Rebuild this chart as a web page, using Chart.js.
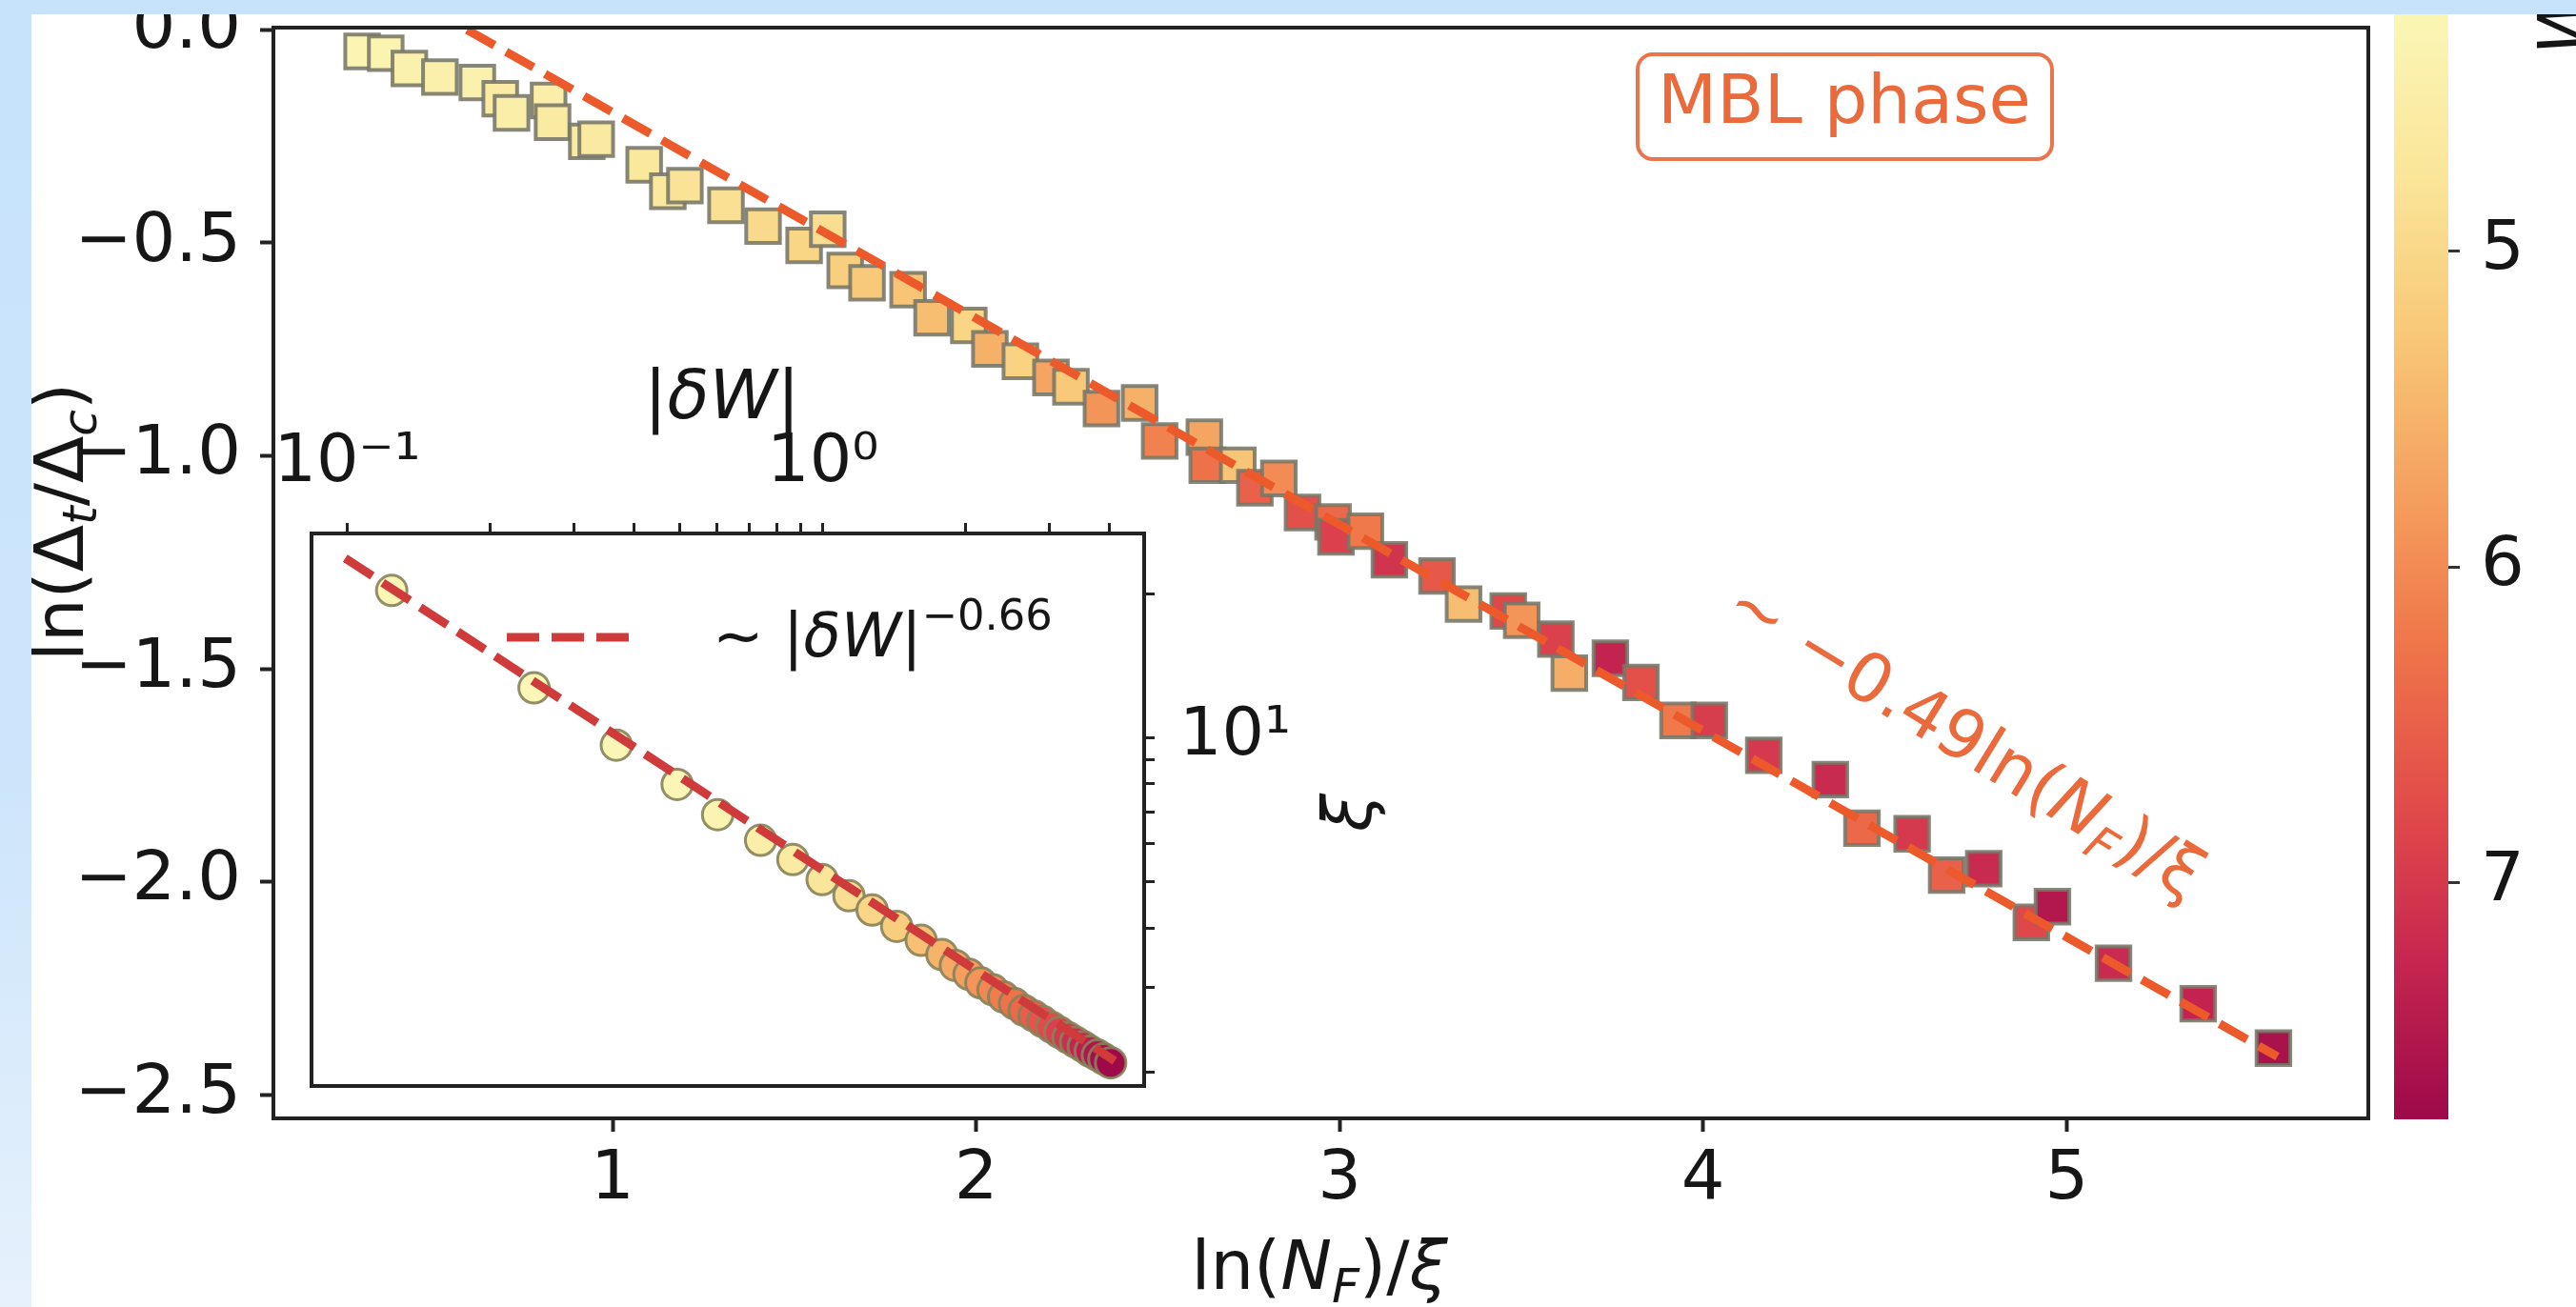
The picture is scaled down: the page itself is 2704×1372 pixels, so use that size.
<!DOCTYPE html>
<html>
<head>
<meta charset="utf-8">
<script src="https://cdn.jsdelivr.net/npm/chart.js@4.4.0/dist/chart.umd.min.js"></script>
<style>
  html, body { margin: 0; padding: 0; background: #fff; }
  #wrap { position: relative; width: 2704px; height: 1372px; overflow: hidden; background: #fff; }
  canvas { position: absolute; }
  #bandTop { position: absolute; left: 0; top: 0; width: 2704px; height: 15px; background: #c6e3fb; }
  #bandLeft { position: absolute; left: 0; top: 0; width: 33px; height: 1372px; background: linear-gradient(#c6e3fb, #cde5fb 60%, #e6f1fc); }
</style>
</head>
<body>
<div id="wrap">
  <canvas id="main" width="2704" height="1372" style="left:0;top:0"></canvas>
  <canvas id="inset" width="2704" height="1372" style="left:0;top:0"></canvas>
  <canvas id="cbar" width="224" height="1372" style="left:2480px;top:0"></canvas>
  <div id="bandTop"></div>
  <div id="bandLeft"></div>
</div>
<script>
// main panel: ln(Δt/Δc) against ln(N_F)/ξ, colour = W
const mainX = [0.311, 0.376, 0.441, 0.525, 0.628, 0.691, 0.722, 0.824, 0.835, 0.929, 0.955, 1.087, 1.152, 1.199, 1.312, 1.414, 1.527, 1.592, 1.640,
  1.700, 1.813, 1.879, 1.980, 2.038, 2.122, 2.206, 2.261, 2.345, 2.450, 2.505, 2.628, 2.636, 2.720, 2.767, 2.833, 2.898, 2.982,
  2.990, 3.071, 3.137, 3.268, 3.341, 3.464, 3.501, 3.595, 3.632, 3.745, 3.829, 3.931, 4.017, 4.167, 4.350,
  4.437, 4.575, 4.670, 4.772, 4.903, 4.961, 5.129, 5.362, 5.569];
const mainY = [-0.051, -0.055, -0.091, -0.111, -0.124, -0.162, -0.195, -0.166, -0.217, -0.262, -0.257, -0.317, -0.379, -0.366, -0.412, -0.461, -0.506, -0.468, -0.565,
  -0.594, -0.610, -0.676, -0.694, -0.749, -0.778, -0.816, -0.838, -0.889, -0.876, -0.965, -0.956, -1.022, -1.022, -1.075, -1.053, -1.133, -1.155,
  -1.190, -1.177, -1.244, -1.282, -1.348, -1.364, -1.386, -1.430, -1.510, -1.475, -1.532, -1.621, -1.621, -1.703, -1.760,
  -1.874, -1.887, -1.984, -1.969, -2.095, -2.058, -2.191, -2.286, -2.390];
const mainW = [4.30, 4.35, 4.40, 4.45, 4.40, 4.55, 4.50, 4.50, 4.60, 4.60, 4.65, 4.70, 4.70, 4.80, 4.85, 4.95, 5.05, 4.90, 5.15,
  5.25, 5.30, 5.40, 5.05, 5.55, 5.10, 5.70, 5.25, 5.90, 5.55, 6.10, 5.70, 6.30, 5.30, 6.50, 6.00, 6.70, 6.40,
  6.90, 6.20, 7.05, 6.60, 5.40, 6.80, 5.90, 6.90, 5.60, 7.30, 6.70, 6.20, 6.95, 7.00, 7.20,
  6.40, 7.00, 6.50, 7.20, 6.80, 7.50, 7.20, 7.30, 7.60];
const fitX = [0.60, 5.58];
const fitY = [0.0, -2.41];
const xTicks = [1, 2, 3, 4, 5];
const yTicks = [0, -0.5, -1, -1.5, -2, -2.5];

// inset: ξ against |δW|
const insetDW = [0.124, 0.247, 0.368, 0.494, 0.601, 0.740, 0.865, 0.997, 1.135, 1.27, 1.43, 1.61, 1.78, 1.90, 2.03, 2.15,
  2.28, 2.40, 2.53, 2.65, 2.78, 2.90, 3.03, 3.15, 3.28, 3.40, 3.53, 3.65, 3.78, 3.90, 4.03];
const insetXi = [20.3, 12.7, 9.64, 7.98, 6.90, 6.10, 5.56, 5.05, 4.67, 4.36, 4.03, 3.77, 3.52, 3.34, 3.20, 3.07,
  2.97, 2.87, 2.78, 2.69, 2.62, 2.55, 2.48, 2.42, 2.36, 2.31, 2.26, 2.21, 2.17, 2.13, 2.09];
const insetFitDW = [0.099, 4.11];
const insetFitXi = [23.7, 2.11];
const insetXTicks = [0.1, 0.2, 0.3, 0.4, 0.5, 0.6, 0.7, 0.8, 0.9, 1, 2, 3, 4];
const insetYTicks = [2, 3, 4, 5, 6, 7, 8, 9, 10, 20];
const wCrit = 3.75;

// colour bar
const cbarRange = [4.25, 7.75];
const cbarTicks = [5, 6, 7];
const cmapStops = ['#fbf6b6', '#fae69a', '#f8c978', '#f5a15f', '#ef7549', '#e24c4a', '#c62650', '#9d0949'];

const FONT = '"DejaVu Sans"';
const INK = '#161616';
const ORANGE = '#ea6a3c';
const FIT_ORANGE = '#ec5a2c';
const INSET_RED = '#cf3b3b';

function hexToRgb(h) {
    return [parseInt(h.slice(1, 3), 16), parseInt(h.slice(3, 5), 16), parseInt(h.slice(5, 7), 16)];
}

function cmap(w) {
    let t = (w - cbarRange[0]) / (cbarRange[1] - cbarRange[0]);
    t = Math.max(0, Math.min(1, t)) * (cmapStops.length - 1);
    const i = Math.min(Math.floor(t), cmapStops.length - 2);
    const f = t - i;
    const a = hexToRgb(cmapStops[i]), b = hexToRgb(cmapStops[i + 1]);
    const c = a.map((v, k) => Math.round(v + (b[k] - v) * f));
    return 'rgb(' + c.join(',') + ')';
}

// text with italic / sub / superscript parts
function drawRich(ctx, parts, x, y, size, align) {
    let total = 0;
    const items = parts.map(function (p) {
        const kind = p[1];
        const small = kind === 'sub' || kind === 'subi' || kind === 'sup';
        const s = small ? size * 0.7 : size;
        const font = ((kind === 'i' || kind === 'subi') ? 'italic ' : '') + s + 'px ' + FONT;
        ctx.font = font;
        const w = ctx.measureText(p[0]).width;
        const dy = (kind === 'sub' || kind === 'subi') ? size * 0.28 : (kind === 'sup' ? -size * 0.36 : 0);
        total += w;
        return { t: p[0], font: font, w: w, dy: dy };
    });
    let cx = align === 'center' ? x - total / 2 : (align === 'right' ? x - total : x);
    ctx.textAlign = 'left';
    ctx.textBaseline = 'middle';
    items.forEach(function (it) {
        ctx.font = it.font;
        ctx.fillText(it.t, cx, y + it.dy);
        cx += it.w;
    });
}

function minusFmt(v) {
    return v.toFixed(1).replace('-', '\u2212');
}

// keep chart areas where they are in the picture: no extra room for edge labels
function noPadY(s, w) {
    s.width = w;
    s.paddingTop = 0;
    s.paddingBottom = 0;
}
function noPadX(s, h) {
    s.height = h;
    s.paddingLeft = 0;
    s.paddingRight = 0;
}

const mainDecor = {
    id: 'mainDecor',
    beforeDraw(chart) {
        const ctx = chart.ctx;
        ctx.save();
        ctx.fillStyle = '#fff';
        ctx.fillRect(0, 0, chart.width, chart.height);
        ctx.restore();
    },
    afterDatasetsDraw(chart) {
        const ctx = chart.ctx;
        const a = chart.chartArea;
        ctx.save();
        ctx.strokeStyle = '#222';
        ctx.lineWidth = 4;
        ctx.strokeRect(a.left, a.top, a.right - a.left, a.bottom - a.top);

        // MBL phase box
        ctx.fillStyle = '#fff';
        ctx.strokeStyle = '#e9754c';
        ctx.lineWidth = 4;
        ctx.beginPath();
        ctx.roundRect(1719, 57, 435, 110, 16);
        ctx.fill();
        ctx.stroke();
        ctx.fillStyle = ORANGE;
        ctx.font = '72px ' + FONT;
        ctx.textAlign = 'center';
        ctx.textBaseline = 'middle';
        ctx.fillText('MBL phase', 1936, 110);

        // slope annotation
        ctx.translate(2061, 780);
        ctx.rotate(31.5 * Math.PI / 180);
        ctx.fillStyle = ORANGE;
        drawRich(ctx, [['~ \u22120.49ln(', 'n'], ['N', 'i'], ['F', 'subi'], [')/\u03be', 'n']], 0, 0, 72, 'center');
        ctx.restore();
    },
    afterDraw(chart) {
        const ctx = chart.ctx;
        ctx.save();
        ctx.fillStyle = INK;
        drawRich(ctx, [['ln(', 'n'], ['N', 'i'], ['F', 'subi'], [')/', 'n'], ['\u03be', 'i']], 1385, 1334, 72, 'center');
        ctx.translate(68, 548);
        ctx.rotate(-Math.PI / 2);
        drawRich(ctx, [['ln(\u0394', 'n'], ['t', 'subi'], ['/\u0394', 'n'], ['c', 'subi'], [')', 'n']], 0, 0, 72, 'center');
        ctx.restore();
    }
};

new Chart(document.getElementById('main'), {
    type: 'scatter',
    data: {
        datasets: [{
            type: 'line',
            data: fitX.map((x, i) => ({ x: x, y: fitY[i] })),
            borderColor: FIT_ORANGE,
            borderWidth: 9,
            borderDash: [33, 14],
            pointRadius: 0,
            fill: false,
            order: 0
        }, {
            type: 'scatter',
            data: mainX.map((x, i) => ({ x: x, y: mainY[i] })),
            pointStyle: 'rect',
            pointRadius: 25,
            pointHoverRadius: 25,
            pointBackgroundColor: mainW.map(cmap),
            pointBorderColor: 'rgba(118,118,104,0.88)',
            pointBorderWidth: 4,
            order: 1
        }]
    },
    options: {
        responsive: false,
        animation: false,
        devicePixelRatio: 1,
        events: [],
        layout: { padding: { left: 0, top: 20, right: 218, bottom: 0 } },
        plugins: { legend: { display: false }, tooltip: { enabled: false } },
        scales: {
            x: {
                type: 'linear',
                min: 0.067,
                max: 5.83,
                afterFit: s => noPadX(s, 198),
                afterBuildTicks: function (s) { s.ticks = xTicks.map(v => ({ value: v })); },
                grid: { display: true, drawOnChartArea: false, drawTicks: true, tickLength: 14, tickWidth: 4, tickColor: '#222' },
                border: { display: true, color: '#222', width: 4 },
                ticks: { autoSkip: false, maxRotation: 0, padding: 8, color: INK, font: { family: 'DejaVu Sans', size: 72 },
                    callback: v => String(v) }
            },
            y: {
                type: 'linear',
                min: -2.555,
                max: 0.005,
                afterFit: s => noPadY(s, 287),
                afterBuildTicks: function (s) { s.ticks = yTicks.map(v => ({ value: v })); },
                grid: { display: true, drawOnChartArea: false, drawTicks: true, tickLength: 14, tickWidth: 4, tickColor: '#222' },
                border: { display: true, color: '#222', width: 4 },
                ticks: { autoSkip: false, padding: 20, color: INK, font: { family: 'DejaVu Sans', size: 72 },
                    callback: v => minusFmt(v) }
            }
        }
    },
    plugins: [mainDecor]
});

const insetDecor = {
    id: 'insetDecor',
    beforeDraw(chart) {
        const a = chart.chartArea;
        const ctx = chart.ctx;
        ctx.save();
        ctx.fillStyle = '#fff';
        ctx.fillRect(a.left, a.top, a.right - a.left, a.bottom - a.top);
        ctx.restore();
    },
    afterDatasetsDraw(chart) {
        const a = chart.chartArea;
        const ctx = chart.ctx;
        ctx.save();
        ctx.strokeStyle = '#222';
        ctx.lineWidth = 4;
        ctx.strokeRect(a.left, a.top, a.right - a.left, a.bottom - a.top);

        // legend
        ctx.strokeStyle = INSET_RED;
        ctx.lineWidth = 9;
        ctx.setLineDash([34, 13]);
        ctx.beginPath();
        ctx.moveTo(532, 669);
        ctx.lineTo(664, 669);
        ctx.stroke();
        ctx.setLineDash([]);
        ctx.fillStyle = INK;
        drawRich(ctx, [['~ |', 'n'], ['\u03b4W', 'i'], ['|', 'n'], ['\u22120.66', 'sup']], 748, 672, 64, 'left');
        ctx.restore();
    },
    afterDraw(chart) {
        const ctx = chart.ctx;
        ctx.save();
        ctx.fillStyle = INK;
        drawRich(ctx, [['|', 'n'], ['\u03b4W', 'i'], ['|', 'n']], 758, 420, 72, 'center');
        ctx.translate(1420, 853);
        ctx.rotate(-Math.PI / 2);
        drawRich(ctx, [['\u03be', 'i']], 0, 0, 72, 'center');
        ctx.restore();
    }
};

function supLabel(v) {
    if (v === 0.1) return '10\u207b\u00b9';
    if (v === 1) return '10\u2070';
    if (v === 10) return '10\u00b9';
    return '';
}

new Chart(document.getElementById('inset'), {
    type: 'scatter',
    data: {
        datasets: [{
            type: 'line',
            data: insetFitDW.map((x, i) => ({ x: x, y: insetFitXi[i] })),
            borderColor: INSET_RED,
            borderWidth: 9,
            borderDash: [34, 13],
            pointRadius: 0,
            fill: false,
            order: 0
        }, {
            type: 'scatter',
            data: insetDW.map((x, i) => ({ x: x, y: insetXi[i] })),
            pointStyle: 'circle',
            pointRadius: 16,
            pointHoverRadius: 16,
            pointBackgroundColor: insetDW.map(d => cmap(wCrit + d)),
            pointBorderColor: 'rgba(135,130,90,0.9)',
            pointBorderWidth: 3,
            order: 1
        }]
    },
    options: {
        responsive: false,
        animation: false,
        devicePixelRatio: 1,
        events: [],
        layout: { padding: { left: 327, top: 430, right: 1263, bottom: 232 } },
        plugins: { legend: { display: false }, tooltip: { enabled: false } },
        scales: {
            x: {
                type: 'logarithmic',
                position: 'top',
                min: 0.0841,
                max: 4.74,
                afterFit: s => noPadX(s, 130),
                afterBuildTicks: function (s) { s.ticks = insetXTicks.map(v => ({ value: v })); },
                grid: { display: true, drawOnChartArea: false, drawTicks: true, tickLength: 11, tickWidth: 3, tickColor: '#222' },
                border: { display: false },
                ticks: { autoSkip: false, maxRotation: 0, padding: 20, color: INK, font: { family: 'DejaVu Sans', size: 70 },
                    callback: v => supLabel(v) }
            },
            y: {
                type: 'logarithmic',
                position: 'right',
                min: 1.87,
                max: 26.7,
                afterFit: s => noPadY(s, 240),
                afterBuildTicks: function (s) { s.ticks = insetYTicks.map(v => ({ value: v })); },
                grid: { display: true, drawOnChartArea: false, drawTicks: true, tickLength: 11, tickWidth: 3, tickColor: '#222' },
                border: { display: false },
                ticks: { autoSkip: false, padding: 26, color: INK, font: { family: 'DejaVu Sans', size: 70 },
                    callback: v => supLabel(v) }
            }
        }
    },
    plugins: [insetDecor]
});

const cbarDecor = {
    id: 'cbarDecor',
    afterDraw(chart) {
        const ctx = chart.ctx;
        ctx.save();
        ctx.fillStyle = INK;
        ctx.translate(216, 22);
        ctx.rotate(-Math.PI / 2);
        drawRich(ctx, [['W', 'i']], 0, 0, 72, 'center');
        ctx.restore();
    }
};

new Chart(document.getElementById('cbar'), {
    type: 'bar',
    data: {
        labels: ['W'],
        datasets: [{
            data: [cbarRange],
            backgroundColor: function (c) {
                const a = c.chart.chartArea;
                if (!a) return cmapStops[0];
                const g = c.chart.ctx.createLinearGradient(0, a.top, 0, a.bottom);
                cmapStops.forEach((col, i) => g.addColorStop(i / (cmapStops.length - 1), col));
                return g;
            },
            borderWidth: 0,
            barPercentage: 1,
            categoryPercentage: 1
        }]
    },
    options: {
        responsive: false,
        animation: false,
        devicePixelRatio: 1,
        events: [],
        layout: { padding: { left: 33, top: 15, right: 0, bottom: 197 } },
        plugins: { legend: { display: false }, tooltip: { enabled: false } },
        scales: {
            x: { display: false },
            y: {
                position: 'right',
                reverse: true,
                min: cbarRange[0],
                max: cbarRange[1],
                afterFit: s => noPadY(s, 134),
                afterBuildTicks: function (s) { s.ticks = cbarTicks.map(v => ({ value: v })); },
                grid: { display: true, drawOnChartArea: false, drawTicks: true, tickLength: 12, tickWidth: 3, tickColor: '#333' },
                border: { display: false },
                ticks: { autoSkip: false, padding: 22, color: INK, font: { family: 'DejaVu Sans', size: 72 },
                    callback: v => String(v) }
            }
        }
    },
    plugins: [cbarDecor]
});
</script>
</body>
</html>
